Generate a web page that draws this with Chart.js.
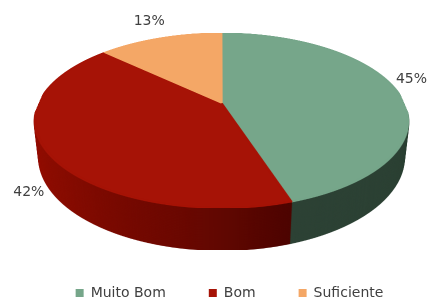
<!DOCTYPE html>
<html>
<head>
<meta charset="utf-8">
<script src="https://cdn.jsdelivr.net/npm/chart.js@4/dist/chart.umd.min.js"></script>
<style>
html,body{margin:0;padding:0;background:#ffffff;}
#c{display:block;}
</style>
</head>
<body>
<canvas id="c" width="429" height="300"></canvas>
<script>
// ---- data ----
const categories = ['Muito Bom', 'Bom', 'Suficiente'];
const values = [45, 42, 13];

// ---- styles ----
const topColors = ['#76A68A', '#A61306', '#F4A766'];
const sideGreen = '#2E4336';
const sideOrange = '#B9733A';
const textColor = '#404040';
const FONT_FAMILY = '"DejaVu Sans", sans-serif';

// 3D view (perspective of a tilted disc)
const VIEW = { cx: 221.5, cy: 103, G: 913.7, s: 0.4597, c: 0.888, d: 5, depth: 0.2285 };
const TT = VIEW.s / VIEW.c;
const SS = 2;      // supersampling
const SR = 420;    // source disc radius

function project(u, v, h) {
  const k = 1 / (VIEW.d - v + h * TT);
  return { x: VIEW.cx + VIEW.G * u * k, y: VIEW.cy + VIEW.G * (VIEW.s * v + h * VIEW.c) * k };
}
function rowMap(sy, h) {
  const v = (sy * (VIEW.d + h * TT) - VIEW.G * h * VIEW.c) / (VIEW.G * VIEW.s + sy);
  if (!(v >= -1 && v <= 1)) return null;
  return { v: v, k: VIEW.G / (VIEW.d - v + h * TT) };
}
function insideTop(x, y) {
  const r = rowMap(y - VIEW.cy, 0);
  if (!r) return false;
  return Math.abs(x - VIEW.cx) < r.k * Math.sqrt(1 - r.v * r.v);
}

function paintSource(chart, colorFor) {
  const arcs = chart.getDatasetMeta(0).data;
  const src = document.createElement('canvas');
  src.width = src.height = 2 * SR + 4;
  const c = src.getContext('2d');
  const R0 = arcs[0].outerRadius, ex = arcs[0].x, ey = arcs[0].y;
  const sc = SR / R0;
  c.setTransform(sc, 0, 0, sc, SR + 2 - ex * sc, SR + 2 - ey * sc);
  arcs.forEach((el, i) => {
    const col = colorFor(i, c, ex, ey);
    const saved = el.options;
    el.options = Object.assign({}, saved, { backgroundColor: col, borderColor: col, borderWidth: 1.5, offset: 0 });
    el.draw(c);
    el.options = saved;
  });
  return src;
}

function drawFace(o, src, h, vMin) {
  const H = o.canvas.height;
  for (let yo = 0; yo < H; yo++) {
    const y = (yo + 0.5) / SS;
    const r = rowMap(y - VIEW.cy, h);
    if (!r || r.v < vMin) continue;
    const srow = SR + 2 + r.v * SR - 0.5;
    o.drawImage(src, 2, srow, 2 * SR, 1, (VIEW.cx - r.k) * SS, yo, 2 * r.k * SS, 1);
  }
}

function drawLabels(chart, ctx) {
  const arcs = chart.getDatasetMeta(0).data;
  const total = values.reduce((a, b) => a + b, 0);
  ctx.save();
  ctx.font = '14px ' + FONT_FAMILY;
  ctx.fillStyle = textColor;
  ctx.textAlign = 'center';
  ctx.textBaseline = 'middle';
  const GAP = 12, th = 12, W = chart.width;
  arcs.forEach((el, i) => {
    const a = (el.startAngle + el.endAngle) / 2;
    const u = Math.cos(a), v = Math.sin(a);
    const p = project(u, v, v > 0 ? VIEW.depth * 0.75 : 0);
    const txt = Math.round(values[i] / total * 100) + '%';
    const w = ctx.measureText(txt).width;
    let x = p.x + u * GAP + u * w / 2;
    let y = p.y + v * GAP + v * th / 2;
    const xc = Math.min(Math.max(x, w / 2 + 2), W - w / 2 - 2);
    if (xc !== x) {
      x = xc;
      const dir = v < 0 ? -1 : 1;
      const g = 2;
      const hit = () => [[x - w / 2 - g, y - th / 2 - g], [x + w / 2 + g, y - th / 2 - g],
                         [x - w / 2 - g, y + th / 2 + g], [x + w / 2 + g, y + th / 2 + g]]
                         .some(q => insideTop(q[0], q[1]));
      let n = 0;
      while (hit() && n < 300) { y += dir * 0.5; n++; }
    }
    ctx.fillText(txt, x, y);
  });
  ctx.restore();
}

const pie3d = {
  id: 'pie3d',
  beforeDatasetsDraw(chart) {
    const ctx = chart.ctx;
    const topSrc = paintSource(chart, i => topColors[i]);
    const sideSrc = paintSource(chart, (i, c, ex, ey) => {
      if (i === 1) {
        const g = c.createConicGradient(-Math.PI / 2, ex, ey);
        g.addColorStop(0.0, '#4E0500');
        g.addColorStop(0.45, '#4E0500');
        g.addColorStop(0.53, '#6C0902');
        g.addColorStop(0.625, '#860D03');
        g.addColorStop(0.72, '#9A1105');
        g.addColorStop(0.85, '#A01206');
        g.addColorStop(1.0, '#A01206');
        return g;
      }
      return i === 0 ? sideGreen : sideOrange;
    });
    const out = document.createElement('canvas');
    out.width = chart.width * SS; out.height = chart.height * SS;
    const o = out.getContext('2d');
    o.imageSmoothingEnabled = true;
    const layers = Math.ceil(50 * SS);
    for (let j = layers; j >= 1; j--) {
      drawFace(o, sideSrc, VIEW.depth * j / layers, -0.35);
    }
    drawFace(o, topSrc, 0, -1);
    ctx.save();
    ctx.setTransform(1, 0, 0, 1, 0, 0);
    ctx.imageSmoothingEnabled = true;
    ctx.imageSmoothingQuality = 'high';
    ctx.drawImage(out, 0, 0, out.width, out.height, 0, 0, chart.width, chart.height);
    ctx.restore();
    drawLabels(chart, ctx);
    return false;
  }
};

new Chart(document.getElementById('c'), {
  type: 'pie',
  data: {
    labels: categories,
    datasets: [{ data: values, backgroundColor: topColors, borderWidth: 0 }]
  },
  options: {
    responsive: false,
    devicePixelRatio: 1,
    animation: false,
    layout: { padding: { bottom: -10, left: 30 } },
    plugins: {
      tooltip: { enabled: false },
      legend: {
        position: 'bottom',
        labels: {
          boxWidth: 8, boxHeight: 8, padding: 43,
          color: textColor,
          font: { size: 14, family: FONT_FAMILY }
        }
      }
    }
  },
  plugins: [pie3d]
});
</script>
</body>
</html>
